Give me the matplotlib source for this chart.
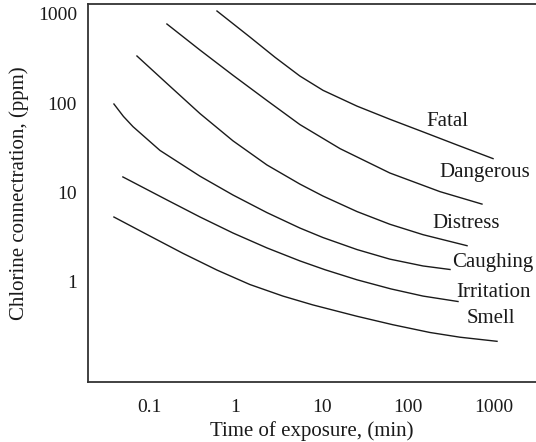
import matplotlib.pyplot as plt
from matplotlib.ticker import FixedLocator, NullLocator

plt.rcParams['font.family'] = ['Liberation Serif', 'DejaVu Serif']

# exposure time (min) and chlorine concentration (ppm) along each threshold curve
fatal_t = [0.61, 1.47, 2.88, 5.6, 10.4, 25.8, 62, 151, 374, 980]
fatal_c = [1075, 550, 326, 201, 139, 92.5, 66, 47.6, 34, 23.9]

dangerous_t = [0.160, 0.387, 0.936, 2.32, 5.6, 16.4, 62, 237, 729]
dangerous_c = [769, 393, 205, 107, 57.5, 30.9, 16.5, 10.2, 7.4]

distress_t = [0.0718, 0.160, 0.387, 0.936, 2.32, 5.6, 10.4, 25.8, 62, 151, 489]
distress_c = [337, 166, 76.4, 37.8, 20.3, 12.4, 9.1, 6.1, 4.4, 3.36, 2.53]

caughing_t = [0.0388, 0.050, 0.0646, 0.133, 0.387, 0.936, 2.32, 5.6, 10.4, 25.8, 62, 151, 310]
caughing_c = [97.7, 71, 54.5, 29.5, 15.2, 9.35, 5.94, 3.99, 3.12, 2.29, 1.79, 1.50, 1.37]

irritation_t = [0.0493, 0.160, 0.387, 0.936, 2.32, 5.6, 11.0, 25.8, 64, 151, 384]
irritation_c = [14.9, 8.24, 5.31, 3.51, 2.39, 1.71, 1.36, 1.05, 0.83, 0.69, 0.60]

smell_t = [0.0388, 0.102, 0.245, 0.61, 1.47, 3.56, 7.9, 25.8, 67, 181, 405, 1090]
smell_c = [5.30, 3.24, 2.08, 1.35, 0.93, 0.69, 0.55, 0.41, 0.33, 0.27, 0.239, 0.215]

names = ['Fatal', 'Dangerous', 'Distress', 'Caughing', 'Irritation', 'Smell']
label_t = [286, 790, 475, 980, 980, 929]
label_c = [61.5, 16.9, 4.54, 1.66, 0.766, 0.392]

ticks = [0.1, 1, 10, 100, 1000]
tick_labels = ['0.1', '1', '10', '100', '1000']
yticks = [1, 10, 100, 1000]
ytick_labels = ['1', '10', '100', '1000']

fig = plt.figure(figsize=(5.36, 4.42), dpi=100)
ax = fig.add_axes([88 / 536, 1 - 382 / 442, 1 - 88 / 536, 378 / 442])

curves = [(fatal_t, fatal_c), (dangerous_t, dangerous_c), (distress_t, distress_c),
          (caughing_t, caughing_c), (irritation_t, irritation_c), (smell_t, smell_c)]
for t, c in curves:
    ax.plot(t, c, color='#1a1a1a', lw=1.0, solid_joinstyle='round')

for name, t, c in zip(names, label_t, label_c):
    ax.text(t, c, name, ha='center', va='center', fontsize=15, color='#1a1a1a')

ax.set_xscale('log')
ax.set_yscale('log')
ax.set_xlim(0.0194, 3090)
ax.set_ylim(0.0753, 1288)

ax.xaxis.set_major_locator(FixedLocator(ticks))
ax.set_xticklabels(tick_labels)
ax.yaxis.set_major_locator(FixedLocator(yticks))
ax.set_yticklabels(ytick_labels)
ax.xaxis.set_minor_locator(NullLocator())
ax.yaxis.set_minor_locator(NullLocator())
ax.tick_params(length=0, labelsize=14, colors='#1a1a1a')
ax.tick_params(axis='x', pad=12)
ax.tick_params(axis='y', pad=8)

for side in ['left', 'bottom', 'top']:
    ax.spines[side].set_linewidth(1.3)
    ax.spines[side].set_color('#333333')
ax.spines['right'].set_visible(False)

ax.set_xlabel('Time of exposure, (min)', fontsize=15, labelpad=4, color='#1a1a1a')
ax.set_ylabel('Chlorine connectration, (ppm)', fontsize=15, labelpad=6, color='#1a1a1a')

fig.savefig('out.png', dpi=100)
